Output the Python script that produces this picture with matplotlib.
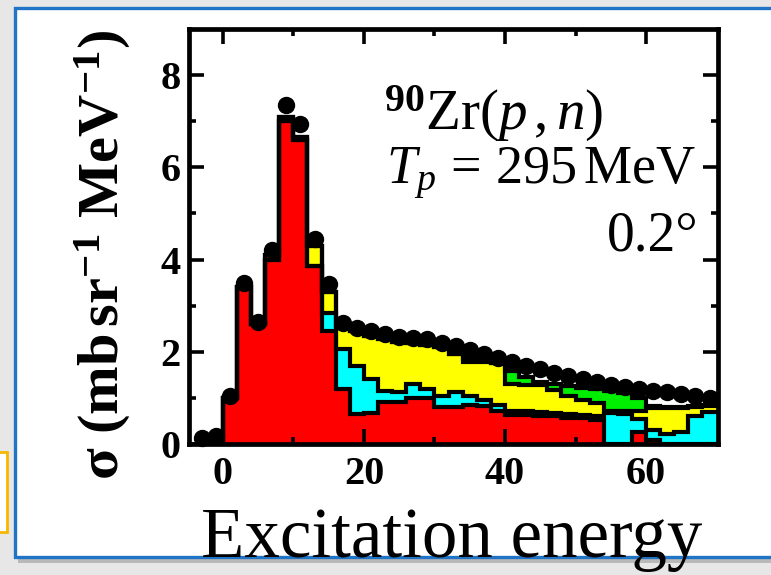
import numpy as np
import matplotlib
matplotlib.use("Agg")
import matplotlib.pyplot as plt
from matplotlib.patches import Rectangle

# 2 MeV bins from -4 to 70 MeV
edges = np.arange(-4, 72, 2)
centers = edges[:-1] + 1

# stacked components (mb/sr/MeV), read bin by bin
red = [0, 0, 1.0, 3.4, 2.6, 4.0, 7.0, 6.6, 3.85, 2.45,
       1.2, 0.65, 0.67, 0.92, 0.92, 1.0, 1.0, 0.8, 0.8, 0.85,
       0.82, 0.72, 0.63, 0.63, 0.6, 0.6, 0.57, 0.57, 0.52, 0,
       0, 0.25, 0.08, 0, 0, 0, 0]
cyan = [0, 0, 0, 0, 0, 0, 0, 0, 0, 0.4,
        0.85, 1.05, 0.75, 0.23, 0.2, 0.3, 0.2, 0.25, 0.32, 0.2,
        0.13, 0.13, 0.09, 0.09, 0.1, 0.08, 0.08, 0.05, 0.08, 0.68,
        0.65, 0.3, 0.22, 0.22, 0.25, 0.6, 0.7]
yellow = [0, 0, 0, 0, 0, 0.1, 0.1, 0.05, 0.45, 0.45,
          0.5, 0.75, 0.93, 1.13, 1.1, 0.9, 0.95, 1.05, 0.83, 0.73,
          0.83, 0.9, 0.58, 0.55, 0.57, 0.49, 0.4, 0.33, 0.3, 0.04,
          0.07, 0.17, 0.48, 0.56, 0.53, 0.2, 0.12]
green = [0, 0, 0, 0, 0, 0, 0, 0, 0, 0,
         0, 0, 0, 0, 0, 0, 0, 0, 0, 0.07,
         0.02, 0, 0.28, 0.18, 0.08, 0.13, 0.2, 0.27, 0.3, 0.43,
         0.38, 0.28, 0.04, 0.02, 0.02, 0.02, 0.02]
total = [0.12, 0.18, 1.05, 3.5, 2.65, 4.2, 7.35, 6.95, 4.45, 3.48,
         2.62, 2.52, 2.45, 2.38, 2.33, 2.3, 2.27, 2.2, 2.12, 2.03,
         1.95, 1.87, 1.78, 1.7, 1.62, 1.55, 1.47, 1.4, 1.34, 1.29,
         1.24, 1.2, 1.16, 1.12, 1.08, 1.04, 1.0]

plt.rcParams['font.family'] = ['Liberation Serif', 'DejaVu Serif']
plt.rcParams['mathtext.fontset'] = 'custom'
plt.rcParams['mathtext.rm'] = 'Liberation Serif'
plt.rcParams['mathtext.bf'] = 'Liberation Serif:bold'
plt.rcParams['mathtext.it'] = 'Liberation Serif:italic'

fig = plt.figure(figsize=(7.71, 5.75), dpi=100)
fig.patch.set_facecolor('#e7e7e7')

W, H = 771.0, 575.0

def px(x0, y0, x1, y1):
    # pixel box (top-left origin) -> figure fraction rect
    return (x0 / W, 1 - y1 / H), (x1 - x0) / W, (y1 - y0) / H

# slide panel, its shadow and the small yellow box on the left
xy, w, h = px(18, 12, 800, 563)
fig.add_artist(Rectangle(xy, w, h, transform=fig.transFigure,
                         facecolor='#b9b9b9', edgecolor='none', zorder=-3))
xy, w, h = px(15, 8, 800, 557)
fig.add_artist(Rectangle(xy, w, h, transform=fig.transFigure,
                         facecolor='white', edgecolor='#1f74c6', lw=2.4, zorder=-2))
xy, w, h = px(-20, 452, 7, 532)
fig.add_artist(Rectangle(xy, w, h, transform=fig.transFigure,
                         facecolor='white', edgecolor='#f5b700', lw=2, zorder=-2))

ax = fig.add_axes([189 / W, 1 - 444 / H, 529 / W, 415 / H])

red = np.array(red)
cyan = np.array(cyan)
yellow = np.array(yellow)
green = np.array(green)

levels = [0 * red]
for comp in (red, cyan, yellow, green):
    levels.append(levels[-1] + comp)

colors = ['#ff0000', '#00ffff', '#ffff00', '#00ee00']
for i, col in enumerate(colors):
    ax.stairs(levels[i + 1], edges, baseline=levels[i], fill=True,
              color=col, lw=0, zorder=1)
for lev in levels[1:]:
    ax.stairs(lev, edges, baseline=None, color='k', lw=3, zorder=2)

ax.plot(centers, total, 'o', color='k', ms=11.5, zorder=3, clip_on=False)

ax.set_xlim(-4.8, 70.2)
ax.set_ylim(0, 9)
ax.set_xticks([0, 20, 40, 60])
ax.set_xticks(np.arange(10, 70, 20), minor=True)
ax.set_yticks([0, 2, 4, 6, 8])
ax.set_yticks(np.arange(1, 9, 2), minor=True)
ax.tick_params(which='both', direction='in', top=True, right=True, width=2.6)
ax.tick_params(which='major', length=11)
ax.tick_params(which='minor', length=5)
ax.tick_params(axis='x', pad=9)
ax.tick_params(axis='y', pad=6)
for lab in ax.get_xticklabels() + ax.get_yticklabels():
    lab.set_fontsize(29)
    lab.set_fontweight('bold')
for s in ax.spines.values():
    s.set_linewidth(3.4)

ax.text(0.368, 0.757, r'$^{\mathbf{90}}$Zr$(p\,,n)$', transform=ax.transAxes,
        fontsize=41, va='baseline', ha='left')
ax.text(0.373, 0.628, r'$T_p\,=\,295\,\mathrm{MeV}$', transform=ax.transAxes,
        fontsize=39, va='baseline', ha='left')
ax.text(0.963, 0.467, '0.2°', transform=ax.transAxes,
        fontsize=40, va='baseline', ha='right')

fig.text(103 / W, 1 - 255 / H, r'σ (mb$\,$sr$^{\mathbf{-1}}$ MeV$^{\mathbf{-1}}$)',
         rotation=90, fontsize=42, fontweight='bold', ha='center', va='center')
fig.text(452 / W, 1 - 557 / H, 'Excitation energy', fontsize=51,
         ha='center', va='baseline')

fig.savefig('out.png', dpi=100, facecolor=fig.get_facecolor())
